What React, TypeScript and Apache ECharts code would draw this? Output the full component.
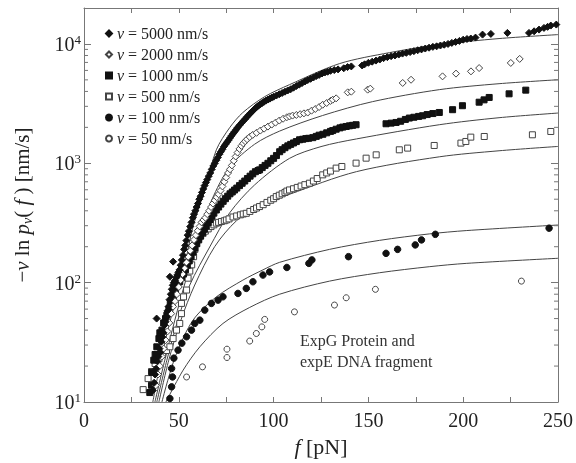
import React, { useEffect, useRef } from "react";
import * as echarts from "echarts";

const FONT = "'Liberation Serif', 'Times New Roman', Times, serif";
const TEXT = "#222";
const AXIS = "#777";

const speeds = ["5000", "2000", "1000", "500", "100", "50"];

const v5000: number[][] = [
  [36.3, 12.5], [37, 14.5], [37.5, 17], [38, 19], [38.3, 50], [38.6, 22], [39.2, 24], [39.8, 28], [40.2, 26], [40.8, 32],
  [41.3, 35], [41.9, 38], [42.4, 44], [43, 47], [43.5, 52], [44, 58], [44.6, 63], [45.1, 72], [45.3, 112], [45.8, 80],
  [46.3, 88], [46.8, 95], [47, 150], [47.4, 100], [48, 104], [48.6, 110], [49.2, 116], [49.8, 122], [50.4, 128], [51, 140],
  [51.6, 155], [52.2, 170], [52.8, 190], [53.4, 205], [54, 225], [54.7, 250], [55.3, 270], [56, 295], [56.7, 320], [57.4, 350],
  [58, 375], [58.7, 400], [59.4, 430], [60.1, 460], [60.8, 500], [61.5, 530], [62.2, 570], [62.9, 610], [63.6, 650], [64.3, 690],
  [65, 730], [65.8, 780], [66.6, 830], [67.4, 890], [68.2, 950], [69, 1000], [69.8, 1060], [70.6, 1120], [71.4, 1190], [72.2, 1250],
  [73, 1310], [73.8, 1380], [74.6, 1440], [75.4, 1500], [76.2, 1560], [77, 1630], [77.8, 1700], [78.6, 1770], [79.4, 1840], [80.2, 1910],
  [81, 1990], [82, 2080], [83, 2170], [84, 2260], [85, 2350], [86, 2450], [87, 2550], [88, 2650], [89, 2750], [90, 2850],
  [91, 2950], [92, 3040], [93, 3120], [94, 3200], [95, 3280], [96, 3350], [97, 3420], [98, 3480], [99, 3550], [100, 3610],
  [101.5, 3700], [103, 3790], [104.5, 3880], [106, 3980], [107.5, 4080], [109, 4170], [110.5, 4300], [112, 4440], [113.5, 4560], [115, 4700],
  [116.5, 4840], [118, 4980], [119.5, 5100], [121, 5230], [122.5, 5380], [124, 5500], [125.5, 5650], [127, 5760], [128.5, 5850], [130, 5950],
  [132, 6040], [134, 6120], [137, 6250], [139, 6400], [141, 6480], [146.7, 6600], [148, 6750], [150, 6950], [152, 7100], [154, 7250],
  [156, 7400], [158, 7600], [160, 7750], [162, 7900], [164, 8000], [166, 8150], [168, 8300], [170, 8420], [172, 8550], [174, 8700],
  [176, 8850], [178, 9000], [180, 9150], [182, 9300], [184, 9450], [186, 9550], [188, 9700], [190, 9850], [192, 10000], [194, 10200],
  [196, 10400], [198, 10600], [200, 10850], [202, 11000], [204, 11100], [206.5, 11300], [210.2, 11970], [214.6, 12130], [223.3, 12370], [234.7, 12370],
  [237.4, 12760], [240, 13180], [242.6, 13620], [244.5, 13900], [246.2, 14250], [249.1, 14530],
];

const v2000: number[][] = [
  [37.9, 13.8], [39, 17], [40, 20], [41, 24], [42, 28], [43, 33], [44, 39], [45, 46], [46, 55], [47, 63],
  [48, 70], [49, 80], [50, 92], [51, 105], [52, 118], [53, 132], [54, 148], [55, 165], [56, 185], [57, 205],
  [58, 228], [59, 250], [60, 272], [61, 296], [62, 320], [63, 335], [64, 350], [65, 375], [66, 400], [67, 430],
  [68, 460], [69, 490], [70, 520], [71, 550], [72, 590], [73, 640], [74, 700], [75, 760], [76, 830], [77, 890],
  [78, 960], [79, 1050], [80, 1140], [81, 1230], [82, 1320], [83, 1400], [84, 1470], [85, 1530], [86, 1590], [87.4, 1660],
  [89, 1730], [91, 1800], [93, 1880], [95, 1950], [97, 2030], [99, 2110], [101, 2190], [103, 2280], [105, 2360], [107, 2430],
  [108.4, 2470], [110, 2510], [112, 2540], [114, 2580], [116, 2620], [118, 2660], [120, 2760], [122, 2850], [124, 2960], [125.9, 3095],
  [128, 3200], [130, 3330], [131.2, 3410], [133, 3500], [139.1, 3930], [141, 3980], [149.6, 4140], [151, 4220], [168.1, 4710], [172.5, 5010],
  [189.1, 5350], [196.2, 5640], [204.1, 5890], [208.4, 6280], [225.1, 6930], [229.8, 7490],
];

const v1000: number[][] = [
  [34.7, 12], [35.6, 13.8], [35.8, 17.7], [36.8, 22.4], [37.5, 25], [38.4, 29], [39.5, 34], [40, 38], [41.1, 40], [42, 46],
  [43, 50], [43.7, 53.4], [44.8, 60], [45.5, 66], [46.3, 71.5], [47.2, 78], [48.2, 87], [49.5, 95.5], [50.5, 102], [51.5, 110],
  [52.5, 118], [53.5, 128], [54.5, 140], [55.5, 152], [56.5, 165], [57.5, 180], [58.5, 195], [59.5, 212], [60.5, 228], [61.5, 245],
  [62.5, 262], [63.5, 280], [64.5, 298], [65.5, 318], [66.5, 338], [67.5, 360], [68.5, 382], [69.8, 406], [71, 430], [72.2, 455],
  [73.4, 480], [74.6, 505], [75.8, 530], [77, 555], [78.2, 575], [79.4, 597], [80.6, 620], [82, 650], [83.4, 680], [84.8, 710],
  [86.2, 745], [87.6, 780], [89, 815], [90.4, 850], [91.8, 870], [92.6, 881], [94, 920], [95.5, 960], [97, 1000], [98.5, 1050],
  [100, 1100], [101.5, 1160], [103.2, 1250], [104.5, 1300], [106, 1350], [107.5, 1400], [109, 1440], [110.5, 1480], [112, 1520], [113.7, 1574],
  [115.4, 1590], [117, 1610], [118.5, 1620], [120.7, 1640], [122.5, 1680], [124, 1720], [126, 1750], [128, 1800], [130, 1850], [131.2, 1880],
  [133, 1930], [135, 1980], [136.5, 2010], [138.3, 2034], [140, 2060], [141.7, 2080], [143.5, 2104], [159.3, 2143], [162, 2170], [164.6, 2198],
  [167, 2250], [169.5, 2330], [171.6, 2393], [174, 2430], [176.5, 2470], [178.6, 2502], [181, 2560], [184, 2610], [187.4, 2665], [194.4, 2812],
  [199.6, 3037], [208.4, 3250], [211, 3400], [213.7, 3560], [224.2, 3820], [233, 4100],
];

const v500: number[][] = [
  [31.2, 12.7], [33.8, 15.7], [35.6, 18], [37.5, 21], [39.5, 23], [41.5, 25], [43.5, 27], [45.3, 29], [47, 34], [48.8, 40],
  [50.5, 45.5], [51.4, 55], [51.4, 67], [52.5, 76], [54.1, 86.7], [54.9, 109], [55.8, 125], [56.8, 141], [57.8, 165], [58.5, 190],
  [59.3, 220], [60.5, 235], [61.5, 248], [62.8, 259], [64, 270], [65.5, 282], [67, 295], [68.5, 305], [69.8, 315], [71, 320],
  [72.5, 325], [74, 330], [75.1, 335], [76.5, 342], [78.6, 355], [80.5, 362], [82.5, 370], [84, 376], [85.6, 381], [87.5, 395],
  [89.5, 410], [91, 422], [92.6, 434], [94.5, 450], [96.5, 470], [98.5, 490], [100, 505], [101.4, 526], [103, 540], [104.5, 555],
  [106, 570], [107, 585], [108.4, 598], [110.5, 612], [112.5, 628], [114.5, 645], [116.5, 662], [118.9, 681], [121, 710], [123, 745],
  [125.9, 800], [128, 830], [130, 860], [133, 911], [136, 940], [143.5, 1003], [148.8, 1104], [154.1, 1177], [166.3, 1297], [170.7, 1340],
  [184.7, 1410], [198.8, 1476], [201.4, 1523], [204, 1656], [211.1, 1677], [236.5, 1733], [246.2, 1847],
];

const v100: number[][] = [
  [45.3, 10.7], [46.2, 13.4], [46.7, 16.2], [46.2, 19.1], [47.4, 23.3], [49.6, 27.2], [51.6, 31.1], [54.1, 35.2], [56.7, 40], [58.4, 45.5],
  [61.1, 48.5], [63.7, 58.9], [67.2, 67], [70.7, 71.4], [73.3, 76.1], [81.2, 81.2], [85.6, 89.5], [89.1, 101.7], [94.4, 115.8], [97.9, 123],
  [107, 134], [118.6, 145], [120.2, 155], [139.5, 165], [159.3, 176], [165.4, 190], [174.7, 207], [178, 228], [185.3, 254], [245.3, 286],
];

const v50: number[][] = [
  [54.1, 16.2], [62.5, 19.7], [75.4, 23.6], [75.4, 27.7], [87.4, 32.4], [90.9, 37.5], [93.8, 42.6], [95.3, 49.2], [111, 56.9], [132.1, 64.9],
  [138.3, 74.7], [153.7, 87.9], [230.7, 103],
];

const fit5000: number[][] = [
  [36.3, 10], [40, 20.3], [44.2, 40], [48.4, 71.5], [52.6, 128], [57.5, 294], [63.7, 598], [69.8, 1297], [76.8, 1985], [83.7, 2655],
  [95.3, 3616], [108.4, 4560], [134.7, 6836], [161.1, 8455], [187.4, 9880], [218.9, 11090], [250, 11970],
];
const fit2000: number[][] = [
  [37.4, 10], [42.6, 22.4], [47.9, 48.5], [53.7, 105], [60, 228], [67.4, 493], [76.8, 930], [90, 1445], [103.2, 1862], [125.8, 2512],
  [152.1, 3282], [187.4, 4140], [218.9, 4643], [250, 5010],
];
const fit1000: number[][] = [
  [38.4, 10], [43.7, 22.4], [49.5, 48.5], [55.8, 95.5], [66.3, 199], [76.8, 384], [90, 659], [108.4, 1100], [125, 1380], [143.7, 1600],
  [187.4, 2104], [218.9, 2409], [250, 2636],
];
const fit500: number[][] = [
  [39.5, 10], [44.7, 22.4], [51.1, 48.5], [58.4, 95.5], [68.9, 200], [80.5, 331], [92.6, 437], [108.4, 550], [143.7, 851], [187.4, 1133],
  [218.9, 1273], [250, 1384],
];
const fit100: number[][] = [
  [41.1, 10], [44.2, 15.2], [48.8, 25.5], [57.5, 48.5], [69.8, 76], [83.8, 105], [94.4, 128], [103.2, 148], [129.5, 190], [155.8, 226],
  [182.1, 256], [201.6, 273], [250, 304],
];
const fit50: number[][] = [
  [43.2, 10], [52.3, 18.5], [61.1, 29], [73.3, 45.5], [87.4, 62], [103.2, 80], [129.5, 103], [155.8, 121], [182.1, 136], [201.6, 145],
  [250, 160],
];

const minorTickValues: number[] = [
  20, 30, 40, 50, 60, 70, 80, 90, 200, 300, 400, 500, 600, 700, 800, 900, 2000, 3000, 4000, 5000, 6000, 7000, 8000, 9000,
];

export default function App() {
  const ref = useRef<HTMLDivElement>(null);
  useEffect(() => {
    if (!ref.current) return;
    const chart = echarts.init(ref.current, null, { renderer: "svg" });

    const scatterDefs = [
      { name: speeds[0], data: v5000, symbol: "diamond", size: 7, fill: "#111", stroke: "#111" },
      { name: speeds[1], data: v2000, symbol: "diamond", size: 7, fill: "#fff", stroke: "#444" },
      { name: speeds[2], data: v1000, symbol: "rect", size: 6, fill: "#111", stroke: "#111" },
      { name: speeds[3], data: v500, symbol: "rect", size: 6, fill: "#fff", stroke: "#444" },
      { name: speeds[4], data: v100, symbol: "circle", size: 6.5, fill: "#111", stroke: "#111" },
      { name: speeds[5], data: v50, symbol: "circle", size: 6, fill: "#fff", stroke: "#444" },
    ];
    const fits = [fit5000, fit2000, fit1000, fit500, fit100, fit50];

    const series: any[] = [];
    fits.forEach((d, i) => {
      series.push({
        name: "fit" + speeds[i],
        type: "line",
        data: d,
        smooth: 0.3,
        symbol: "none",
        silent: true,
        z: 1,
        lineStyle: { color: "#444", width: 1 },
      });
    });
    scatterDefs.slice().reverse().forEach((s, i) => {
      series.push({
        name: s.name,
        type: "scatter",
        data: s.data,
        symbol: s.symbol,
        symbolSize: s.size,
        z: 3 + i,
        itemStyle: { color: s.fill, borderColor: s.stroke, borderWidth: 1, opacity: 1 },
      });
    });
    series.push({
      name: "minorTicks",
      type: "custom",
      silent: true,
      z: 10,
      clip: false,
      data: minorTickValues.map((v) => [0, v]),
      renderItem: (params: any, api: any) => {
        const y = api.coord([0, api.value(1)])[1];
        const cs = params.coordSys;
        return {
          type: "group",
          children: [
            { type: "line", shape: { x1: cs.x, y1: y, x2: cs.x + 4, y2: y }, style: { stroke: AXIS, lineWidth: 1 } },
            { type: "line", shape: { x1: cs.x + cs.width - 4, y1: y, x2: cs.x + cs.width, y2: y }, style: { stroke: AXIS, lineWidth: 1 } },
          ],
        };
      },
    });

    const axisLine = { show: true, onZero: false, lineStyle: { color: AXIS, width: 1 } };

    chart.setOption({
      animation: false,
      grid: { left: 84, right: 17, top: 8, bottom: 61, containLabel: false },
      legend: {
        data: speeds,
        orient: "vertical",
        left: 100,
        top: 20,
        itemWidth: 6,
        itemHeight: 6,
        itemGap: 4,
        selectedMode: false,
        formatter: (name: string) => `{i|v} = ${name} nm/s`,
        textStyle: {
          fontFamily: FONT,
          fontSize: 16,
          color: TEXT,
          lineHeight: 17,
          rich: { i: { fontFamily: FONT, fontSize: 16, fontStyle: "italic", color: TEXT, lineHeight: 17 } },
        },
      },
      xAxis: [
        {
          type: "value",
          min: 0,
          max: 250,
          interval: 25,
          position: "bottom",
          axisLine,
          axisTick: { inside: true, length: 5, lineStyle: { color: AXIS } },
          splitLine: { show: false },
          axisLabel: {
            formatter: (v: number) => (v % 50 === 0 ? String(v) : ""),
            fontFamily: FONT,
            fontSize: 20,
            color: TEXT,
            margin: 8,
          },
          name: "{i|f} [pN]",
          nameLocation: "middle",
          nameGap: 33,
          nameTextStyle: {
            fontFamily: FONT,
            fontSize: 22,
            color: TEXT,
            rich: { i: { fontFamily: FONT, fontSize: 22, fontStyle: "italic", color: TEXT } },
          },
        },
        {
          type: "value",
          min: 0,
          max: 250,
          interval: 25,
          position: "top",
          axisLine,
          axisTick: { inside: true, length: 5, lineStyle: { color: AXIS } },
          axisLabel: { show: false },
          splitLine: { show: false },
        },
      ],
      yAxis: [
        {
          type: "log",
          logBase: 10,
          min: 10,
          max: 20000,
          position: "left",
          axisLine,
          axisTick: { inside: true, length: 7, lineStyle: { color: AXIS } },
          splitLine: { show: false },
          axisLabel: {
            margin: 3,
            formatter: (v: number) => {
              const e = Math.log10(v);
              if (Math.abs(e - Math.round(e)) > 1e-6) return "";
              return `{b|10}{s|${Math.round(e)}}`;
            },
            rich: {
              b: { fontFamily: FONT, fontSize: 20, color: TEXT, lineHeight: 22 },
              s: { fontFamily: FONT, fontSize: 13, color: TEXT, lineHeight: 13, verticalAlign: "top" },
            },
          },
          name: "{n|−}{i|v}{n| ln }{i|p}{sub|v}{n|( }{i|f}{n| ) [nm/s]}",
          nameLocation: "middle",
          nameRotate: 90,
          nameGap: 50,
          nameTextStyle: {
            fontFamily: FONT,
            fontSize: 21,
            color: TEXT,
            rich: {
              n: { fontFamily: FONT, fontSize: 21, color: TEXT, lineHeight: 24 },
              i: { fontFamily: FONT, fontSize: 21, fontStyle: "italic", color: TEXT, lineHeight: 24 },
              sub: { fontFamily: FONT, fontSize: 14, fontStyle: "italic", color: TEXT, lineHeight: 14, verticalAlign: "bottom" },
            },
          },
        },
        {
          type: "log",
          logBase: 10,
          min: 10,
          max: 20000,
          position: "right",
          axisLine,
          axisTick: { inside: true, length: 7, lineStyle: { color: AXIS } },
          axisLabel: { show: false },
          splitLine: { show: false },
        },
      ],
      graphic: [
        {
          type: "text",
          left: 300,
          top: 330,
          style: {
            text: "ExpG Protein and\nexpE DNA fragment",
            font: `16px ${FONT}`,
            fill: "#333",
            lineHeight: 21,
          },
        },
      ],
      series,
    });
    return () => chart.dispose();
  }, []);

  return <div ref={ref} style={{ position: "fixed", left: 0, top: 0, width: 576, height: 463 }} />;
}
